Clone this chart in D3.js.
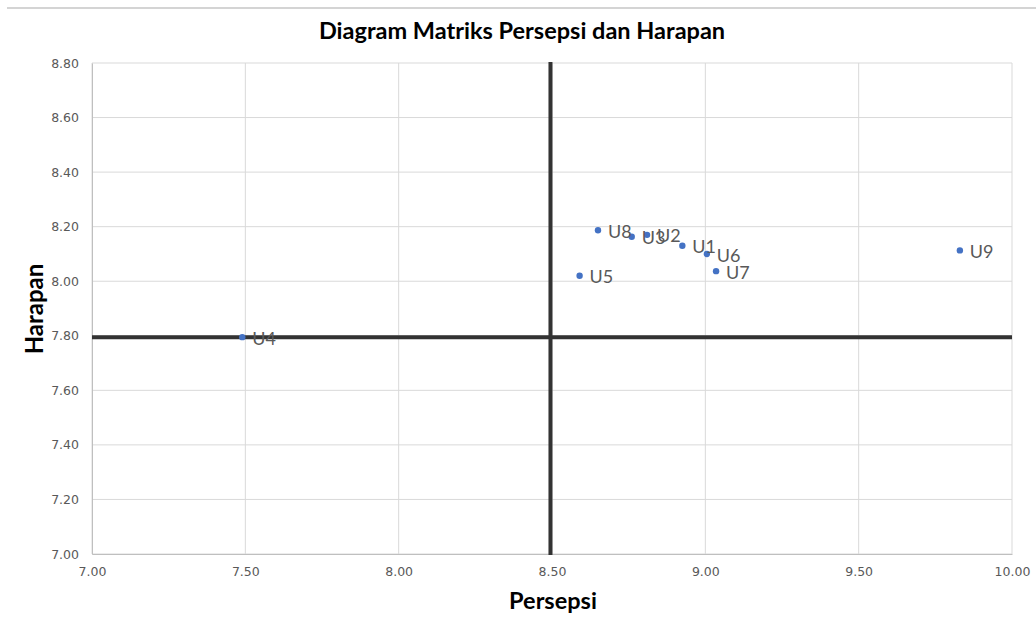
<!DOCTYPE html>
<html>
<head>
<meta charset="utf-8">
<script src="https://cdn.jsdelivr.net/npm/d3@7"></script>
<style>
  html, body { margin: 0; padding: 0; background: #fff; }
  svg { display: block; }
</style>
</head>
<body>
<svg id="chart" width="1036" height="621"></svg>
<script>
// ---- data ----
const labels = ["U1", "U2", "U3", "U4", "U5", "U6", "U7", "U8", "U9"];
const persepsi = [8.925, 8.81, 8.76, 7.49, 8.59, 9.005, 9.035, 8.65, 9.83];
const harapan = [8.13, 8.17, 8.163, 7.795, 8.02, 8.10, 8.037, 8.187, 8.113];
const xTicks = [7.0, 7.5, 8.0, 8.5, 9.0, 9.5, 10.0];
const yTicks = [7.0, 7.2, 7.4, 7.6, 7.8, 8.0, 8.2, 8.4, 8.6, 8.8];
const xMean = 8.495;
const yMean = 7.795;
const title = "Diagram Matriks Persepsi dan Harapan";
const xTitle = "Persepsi";
const yTitle = "Harapan";

const svg = d3.select("#chart");
const m = { left: 92, right: 1012, top: 63, bottom: 554 };

const x = d3.scaleLinear().domain([7, 10]).range([m.left, m.right]);
const y = d3.scaleLinear().domain([7, 8.8]).range([m.bottom, m.top]);

// spreadsheet remnant line at top
svg.append("line").attr("x1", 7).attr("x2", 1036).attr("y1", 8).attr("y2", 8)
  .attr("stroke", "#d4d4d4").attr("stroke-width", 2);

// gridlines
svg.append("g").selectAll("line").data(xTicks).join("line")
  .attr("x1", d => x(d)).attr("x2", d => x(d))
  .attr("y1", m.top).attr("y2", m.bottom)
  .attr("stroke", "#d9d9d9").attr("stroke-width", 1);
svg.append("g").selectAll("line").data(yTicks).join("line")
  .attr("x1", m.left).attr("x2", m.right)
  .attr("y1", d => y(d)).attr("y2", d => y(d))
  .attr("stroke", "#d9d9d9").attr("stroke-width", 1);

// axes
const xAxis = d3.axisBottom(x).tickValues(xTicks).tickFormat(d3.format(".2f")).tickSize(0).tickPadding(13);
const yAxis = d3.axisLeft(y).tickValues(yTicks).tickFormat(d3.format(".2f")).tickSize(0).tickPadding(13);

const gx = svg.append("g").attr("transform", `translate(0,${m.bottom})`).call(xAxis);
const gy = svg.append("g").attr("transform", `translate(${m.left},0)`).call(yAxis);
[gx, gy].forEach(g => {
  g.select(".domain").attr("stroke", "#bfbfbf").attr("stroke-width", 1);
  g.selectAll("text").attr("fill", "#595959")
    .style("font-family", "'DejaVu Sans', sans-serif").style("font-size", "12.5px");
});

// reference lines
svg.append("line").attr("x1", x(7)).attr("x2", x(10))
  .attr("y1", y(yMean)).attr("y2", y(yMean))
  .attr("stroke", "#333333").attr("stroke-width", 4);
svg.append("line").attr("x1", x(xMean)).attr("x2", x(xMean))
  .attr("y1", y(8.8) - 1).attr("y2", y(7) + 1)
  .attr("stroke", "#333333").attr("stroke-width", 4);

// points
const pts = labels.map((l, i) => ({ l, px: persepsi[i], hy: harapan[i] }));
svg.append("g").selectAll("circle").data(pts).join("circle")
  .attr("cx", d => x(d.px)).attr("cy", d => y(d.hy)).attr("r", 3.2)
  .attr("fill", "#4472C4");

svg.append("g").selectAll("text").data(pts).join("text")
  .attr("x", d => x(d.px) + 10).attr("y", d => y(d.hy) + 3)
  .attr("dominant-baseline", "middle")
  .attr("fill", "#595959")
  .style("font-family", "Lato, 'Open Sans', sans-serif").style("font-size", "18px")
  .text(d => d.l);

// titles
svg.append("text").attr("x", 522).attr("y", 33).attr("text-anchor", "middle")
  .attr("dominant-baseline", "middle")
  .style("font-family", "Lato, 'Open Sans', sans-serif").style("font-weight", "bold").style("font-size", "23.5px")
  .attr("fill", "#000").text(title);

svg.append("text").attr("x", 553).attr("y", 603).attr("text-anchor", "middle")
  .attr("dominant-baseline", "middle")
  .style("font-family", "Lato, 'Open Sans', sans-serif").style("font-weight", "bold").style("font-size", "23.5px")
  .attr("fill", "#000").text(xTitle);

svg.append("text").attr("transform", "translate(37,309) rotate(-90)").attr("text-anchor", "middle")
  .attr("dominant-baseline", "middle")
  .style("font-family", "Lato, 'Open Sans', sans-serif").style("font-weight", "bold").style("font-size", "24px")
  .attr("fill", "#000").text(yTitle);
</script>
</body>
</html>
